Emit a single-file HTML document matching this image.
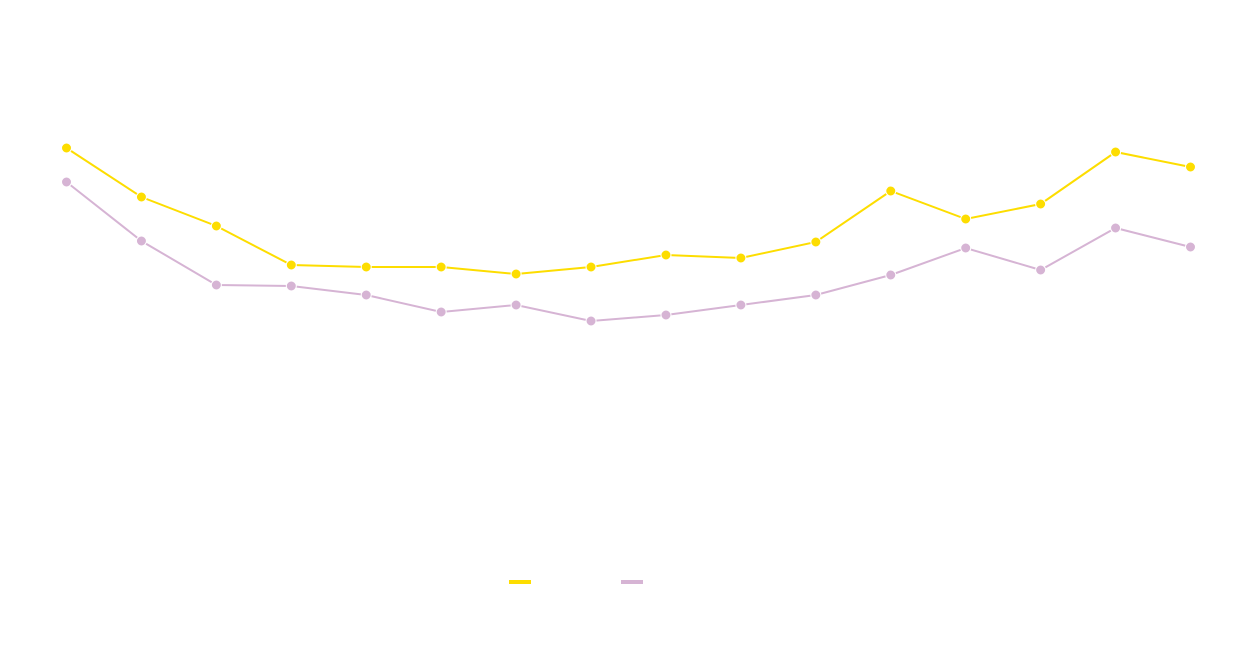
<!DOCTYPE html>
<html><head><meta charset="utf-8"><style>
html,body{margin:0;padding:0;background:#fff;width:1250px;height:650px;overflow:hidden;font-family:"Liberation Sans",sans-serif}
</style></head><body>
<svg id="chart" width="1250" height="650" xmlns="http://www.w3.org/2000/svg"></svg>
<script>
const categories = ["p1","p2","p3","p4","p5","p6","p7","p8","p9","p10","p11","p12","p13","p14","p15","p16"];
const seriesA = [253,204,175,136,134,134,127,134,146,143,159,210,182,197,249,234];
const seriesB = [219,160,116,115,106,89,96,80,86,96,106,126,153,131,173,154];
const seriesNames = ["Series A","Series B"];
const colors = ["#fddd00","#d6b4d4"];

const svg = document.getElementById('chart');
const NS = "http://www.w3.org/2000/svg";
function x(i){ return 66.5 + i * (1190.5-66.5)/(categories.length-1); }
function y(v){ return 401 - v; }

[seriesA, seriesB].forEach((data, s) => {
  const g = document.createElementNS(NS,'g');
  
  
  const line = document.createElementNS(NS,'polyline');
  line.setAttribute('points', data.map((v,i)=>x(i)+','+y(v)).join(' '));
  line.setAttribute('fill','none');
  line.setAttribute('stroke',colors[s]);
  line.setAttribute('stroke-width','2');
  
  
  g.appendChild(line);
  data.forEach((v,i)=>{
    const c = document.createElementNS(NS,'circle');
    c.setAttribute('cx',x(i)); c.setAttribute('cy',y(v)); c.setAttribute('r','5');
    c.setAttribute('fill',colors[s]); c.setAttribute('stroke','#fff'); c.setAttribute('stroke-width','1');
    
    
    g.appendChild(c);
  });
  svg.appendChild(g);
});

const legendX = [509, 621];
seriesNames.forEach((n,s)=>{
  const r = document.createElementNS(NS,'rect');
  r.setAttribute('x',legendX[s]); r.setAttribute('y',580); r.setAttribute('width',22); r.setAttribute('height',4);
  r.setAttribute('fill',colors[s]);
  
  
  svg.appendChild(r);
});
</script>
</body></html>
